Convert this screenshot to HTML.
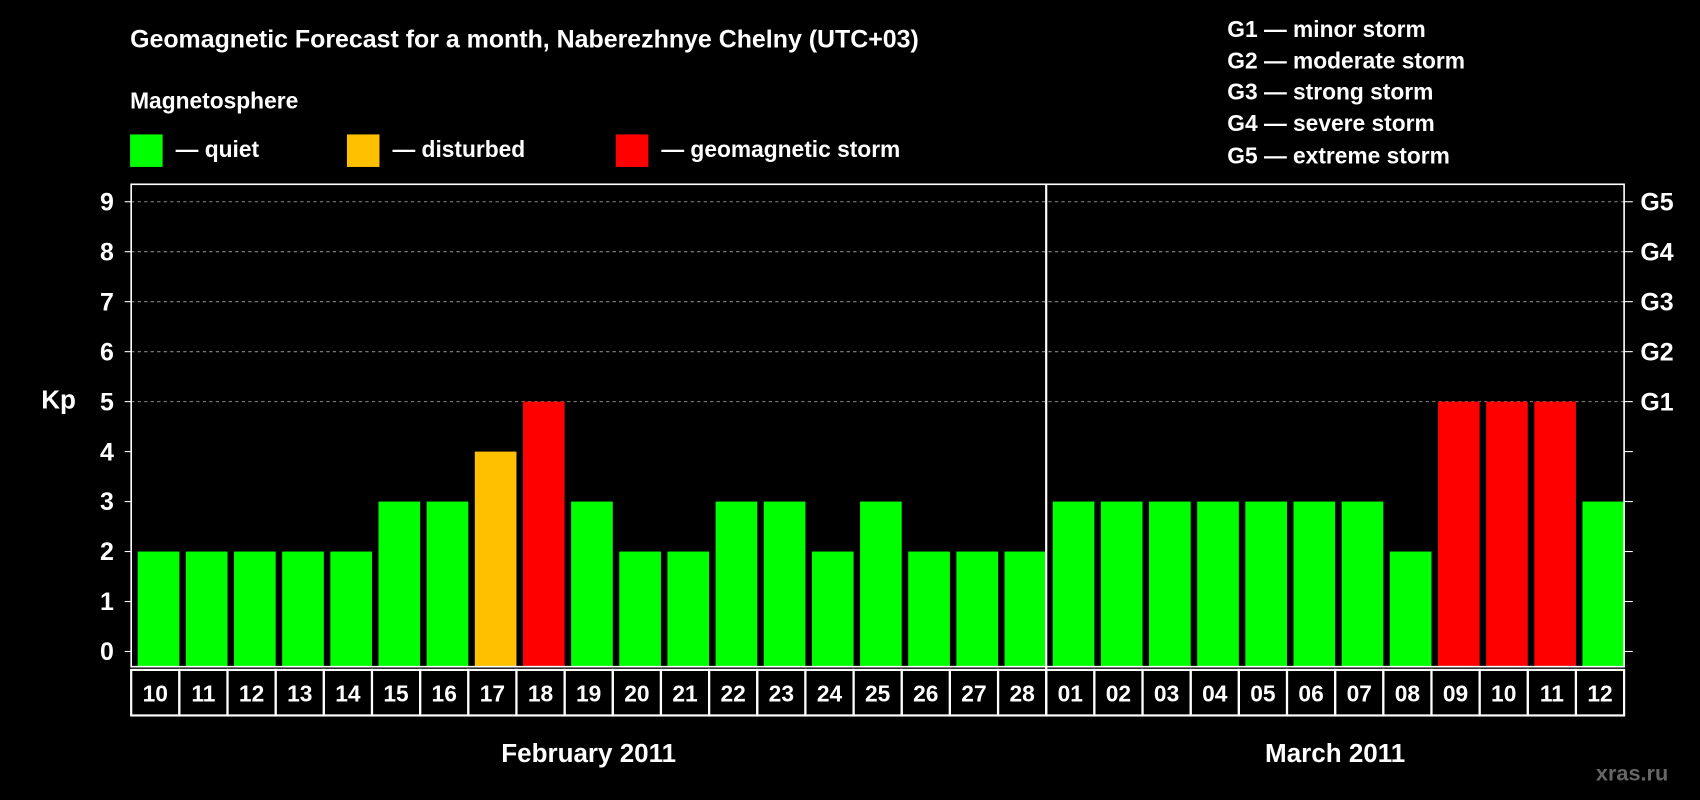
<!DOCTYPE html>
<html><head><meta charset="utf-8"><style>
html,body{margin:0;padding:0;background:#000;}
svg{display:block;font-family:"Liberation Sans",Arial,sans-serif;font-weight:bold;}
</style></head><body>
<svg id="chart" width="1700" height="800" viewBox="0 0 1568 738" preserveAspectRatio="none" xmlns="http://www.w3.org/2000/svg">
<rect width="1568" height="738" fill="#000"/>
<text x="120" y="44" fill="#fff" font-size="23">Geomagnetic Forecast for a month, Naberezhnye Chelny (UTC+03)</text>
<text x="120" y="100" fill="#fff" font-size="21">Magnetosphere</text>
<g><rect x="120" y="124" width="30" height="30" fill="#00ff00"/><text x="162" y="145" fill="#fff" font-size="21">— quiet</text></g>
<g><rect x="320" y="124" width="30" height="30" fill="#ffc000"/><text x="362" y="145" fill="#fff" font-size="21">— disturbed</text></g>
<g><rect x="568" y="124" width="30" height="30" fill="#ff0000"/><text x="610" y="145" fill="#fff" font-size="21">— geomagnetic storm</text></g>
<g fill="#fff" font-size="21">
<text x="1132" y="34">G1 — minor storm</text>
<text x="1132" y="63">G2 — moderate storm</text>
<text x="1132" y="92">G3 — strong storm</text>
<text x="1132" y="121">G4 — severe storm</text>
<text x="1132" y="151">G5 — extreme storm</text>
</g>
<text x="38" y="377" fill="#fff" font-size="24">Kp</text>
<g id="grid"></g><g id="bars"></g><g id="axes"></g>
<text x="1472" y="720" fill="#666" font-size="20">xras.ru</text>
</svg>
<script>
const days=["10","11","12","13","14","15","16","17","18","19","20","21","22","23","24","25","26","27","28","01","02","03","04","05","06","07","08","09","10","11","12"];
const kp=[2,2,2,2,2,3,3,4,5,3,2,2,3,3,2,3,2,2,2,3,3,3,3,3,3,3,2,5,5,5,3];
const yTicks=[0,1,2,3,4,5,6,7,8,9];
const gLabels=["G1","G2","G3","G4","G5"];
const months=["February 2011","March 2011"];
const monthStarts=[0,19];
const NS="http://www.w3.org/2000/svg";
const L=121,R=1498,T=170,B=615;
const step=(R-L)/days.length;
const y=v=>601-v*46.1;
const x=i=>L+i*step;
function mk(tag,at,parent){const e=document.createElementNS(NS,tag);for(const k in at)e.setAttribute(k,at[k]);parent.appendChild(e);return e;}
const grid=document.getElementById('grid'),bars=document.getElementById('bars'),axes=document.getElementById('axes');
yTicks.forEach(v=>{
 if(v>=5){const g=mk('line',{x1:L,x2:R,y1:y(v),y2:y(v),stroke:'#888','stroke-dasharray':'3,3'},grid);
 
 }
 const t=mk('text',{x:105,y:y(v)+8,fill:'#fff','font-size':23,'text-anchor':'end'},axes);t.textContent=v;
 
 
 mk('line',{x1:L-6,x2:L,y1:y(v),y2:y(v),stroke:'#fff'},axes);
 mk('line',{x1:R,x2:R+8,y1:y(v),y2:y(v),stroke:'#fff'},axes);
});
gLabels.forEach((g,i)=>{const t=mk('text',{x:1513,y:y(5+i)+8,fill:'#fff','font-size':23},axes);t.textContent=g;
 
 });
kp.forEach((v,i)=>{
 const c=v>=5?'#ff0000':(v>=4?'#ffc000':'#00ff00');
 const r=mk('rect',{x:x(i)+6,y:y(v),width:step-6,height:y(0)-y(v)+14,fill:c},bars);
 
 
 const b=mk('rect',{x:x(i),y:618,width:step,height:42,fill:'none',stroke:'#fff','stroke-width':2},axes);
 const t=mk('text',{x:x(i)+step/2,y:647,fill:'#fff','font-size':21,'text-anchor':'middle'},axes);t.textContent=days[i];
 
 
});
mk('rect',{x:L,y:T,width:R-L,height:B-T,fill:'none',stroke:'#fff','stroke-width':1.5},axes);
monthStarts.forEach((s,i)=>{
 const e=i+1<monthStarts.length?monthStarts[i+1]:days.length;
 if(s>0)mk('line',{x1:x(s),x2:x(s),y1:T,y2:660,stroke:'#fff','stroke-width':2},axes);
 const t=mk('text',{x:(x(s)+x(e))/2,y:703,fill:'#fff','font-size':24,'text-anchor':'middle'},axes);t.textContent=months[i];
 
 
});
</script>
</body></html>
